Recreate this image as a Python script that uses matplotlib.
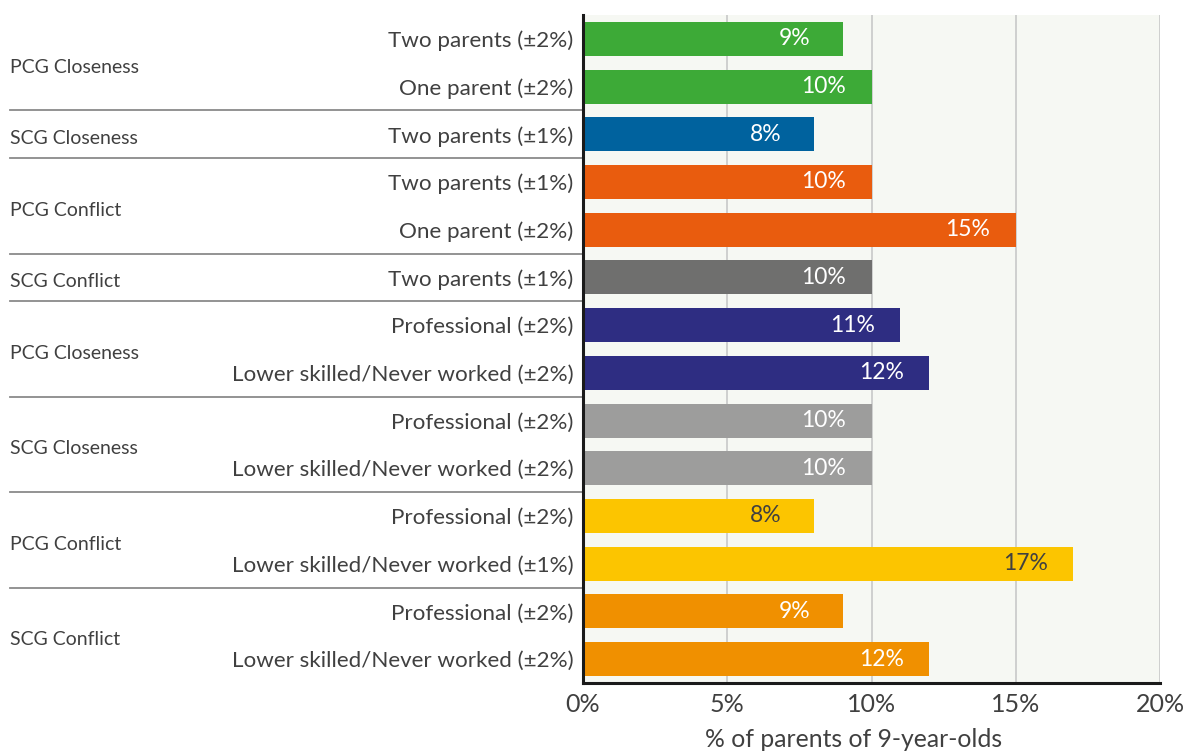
"""Parent-child relationship indicators by family type / social class -- horizontal bars."""

import matplotlib
matplotlib.use("Agg")
import matplotlib.pyplot as plt
import matplotlib.transforms as mtransforms

plt.rcParams["font.family"] = ["Lato", "DejaVu Sans"]

# --- data -------------------------------------------------------------------
categories = [
    "Two parents (±2%)", "One parent (±2%)",
    "Two parents (±1%)",
    "Two parents (±1%)", "One parent (±2%)",
    "Two parents (±1%)",
    "Professional (±2%)", "Lower skilled/Never worked (±2%)",
    "Professional (±2%)", "Lower skilled/Never worked (±2%)",
    "Professional (±2%)", "Lower skilled/Never worked (±1%)",
    "Professional (±2%)", "Lower skilled/Never worked (±2%)",
]
values = [9, 10, 8, 10, 15, 10, 11, 12, 10, 10, 8, 17, 9, 12]
groups = ["PCG Closeness", "SCG Closeness", "PCG Conflict", "SCG Conflict",
          "PCG Closeness", "SCG Closeness", "PCG Conflict", "SCG Conflict"]
group_sizes = [2, 1, 2, 1, 2, 2, 2, 2]
group_colors = ["#3DAA37", "#00629E", "#E95C0E", "#6F6F6E",
                "#2E2D82", "#9D9D9C", "#FCC500", "#F09000"]
group_label_colors = ["white", "white", "white", "white",
                      "white", "white", "#404040", "white"]
x_ticks = [0, 5, 10, 15, 20]
x_label = "% of parents of 9-year-olds"

TEXT = "#404040"

# expand per-group styles to per-bar
bar_colors, label_colors = [], []
for c, lc, n in zip(group_colors, group_label_colors, group_sizes):
    bar_colors += [c] * n
    label_colors += [lc] * n

fig = plt.figure(figsize=(11.84, 7.53), dpi=100)
ax = fig.add_axes([583 / 1184, 1 - 683 / 753, (1160 - 583) / 1184, (683 - 15) / 753])
ax.set_facecolor("#F6F8F3")

ypos = list(range(len(values)))
ax.barh(ypos, values, height=0.71, color=bar_colors, zorder=3)

for y, v, lc in zip(ypos, values, label_colors):
    ax.annotate(f"{v}%", (v, y), xytext=(-34.5, 0), textcoords="offset points",
                ha="center", va="center", color=lc, fontsize=16.5, zorder=4)

ax.set_xlim(0, 20)
ax.set_ylim(len(values) - 0.5, -0.5)
ax.set_xticks(x_ticks)
ax.set_xticklabels([f"{t}%" for t in x_ticks])
ax.set_yticks(ypos)
ax.set_yticklabels(categories)
ax.tick_params(axis="y", length=0, pad=7, labelsize=16.1, labelcolor=TEXT)
ax.tick_params(axis="x", length=0, pad=7, labelsize=18, labelcolor=TEXT)
ax.set_xlabel(x_label, fontsize=17.8, color=TEXT)
# label sits a little left of the axes centre in the original
ax.xaxis.set_label_coords((854 - 583) / (1160 - 583), -(728 - 683) / (683 - 15))

ax.grid(axis="x", color="#C8C8C8", lw=1.2, zorder=0)
for side in ("top", "right"):
    ax.spines[side].set_visible(False)
for side in ("left", "bottom"):
    ax.spines[side].set_color("#1A1A1A")
    ax.spines[side].set_linewidth(2.2)
    ax.spines[side].set_zorder(5)

# group labels and separators on the left
trans = mtransforms.blended_transform_factory(ax.transAxes, ax.transData)
label_trans = trans + mtransforms.ScaledTranslation(0, -3 / 100, fig.dpi_scale_trans)
x_left = (10 - 583) / (1160 - 583)
start = 0
for i, (g, n) in enumerate(zip(groups, group_sizes)):
    mid = start + (n - 1) / 2
    ax.text(x_left, mid, g, transform=label_trans, ha="left", va="center_baseline",
            fontsize=14, color=TEXT)
    if i < len(groups) - 1:
        sep = start + n - 0.5
        ax.plot([x_left, 0], [sep, sep], transform=trans, color="#8A8A8A",
                lw=1.3, clip_on=False)
    start += n

fig.savefig("out.png", dpi=100)
